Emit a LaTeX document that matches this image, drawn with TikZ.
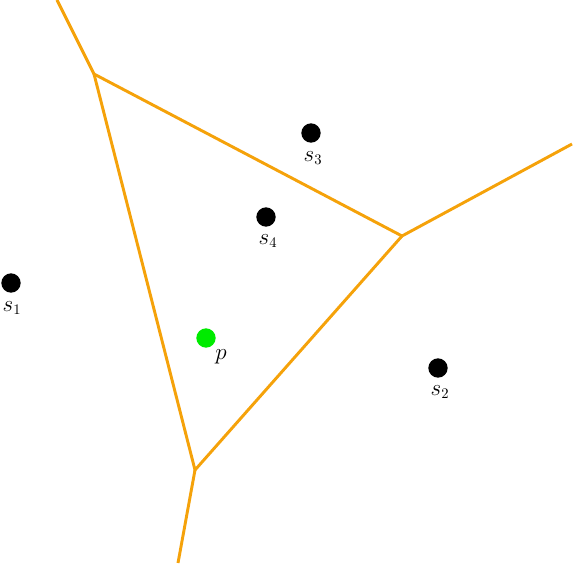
\documentclass[tikz,border=0pt]{standalone}
\definecolor{vor}{RGB}{245,162,10}
\definecolor{pgreen}{RGB}{0,235,0}
\begin{document}
\begin{tikzpicture}[x=0.75pt,y=-0.75pt,
  site/.style={circle,fill=black,inner sep=0pt,minimum size=14.5pt},
  query/.style={circle,fill=pgreen,inner sep=0pt,minimum size=14.5pt},
  edge/.style={draw=vor,line width=2.2pt},
  lab/.style={inner sep=0pt,font=\fontsize{16}{18}\selectfont}]
\useasboundingbox (0,0) rectangle (573,563);
\node[site] (s1) at (11,283) {};
\node[site] (s2) at (438,368) {};
\node[site] (s3) at (311,133) {};
\node[site] (s4) at (266,217) {};
\node[query] (p) at (206,338) {};
\node[lab] at (12,308) {$s_1$};
\node[lab] at (440,392) {$s_2$};
\node[lab] at (313,158) {$s_3$};
\node[lab] at (268,241) {$s_4$};
\node[lab] at (221,357) {$p$};
\coordinate (a) at (94,74);
\coordinate (b) at (402,236);
\coordinate (c) at (195,470);
\coordinate (e1) at (57,0);
\coordinate (e2) at (572,144);
\coordinate (e3) at (178,563);
\draw[edge] (e1) -- (a) -- (b) -- (e2);
\draw[edge] (a) -- (c) -- (b);
\draw[edge] (c) -- (e3);
\end{tikzpicture}
\end{document}
